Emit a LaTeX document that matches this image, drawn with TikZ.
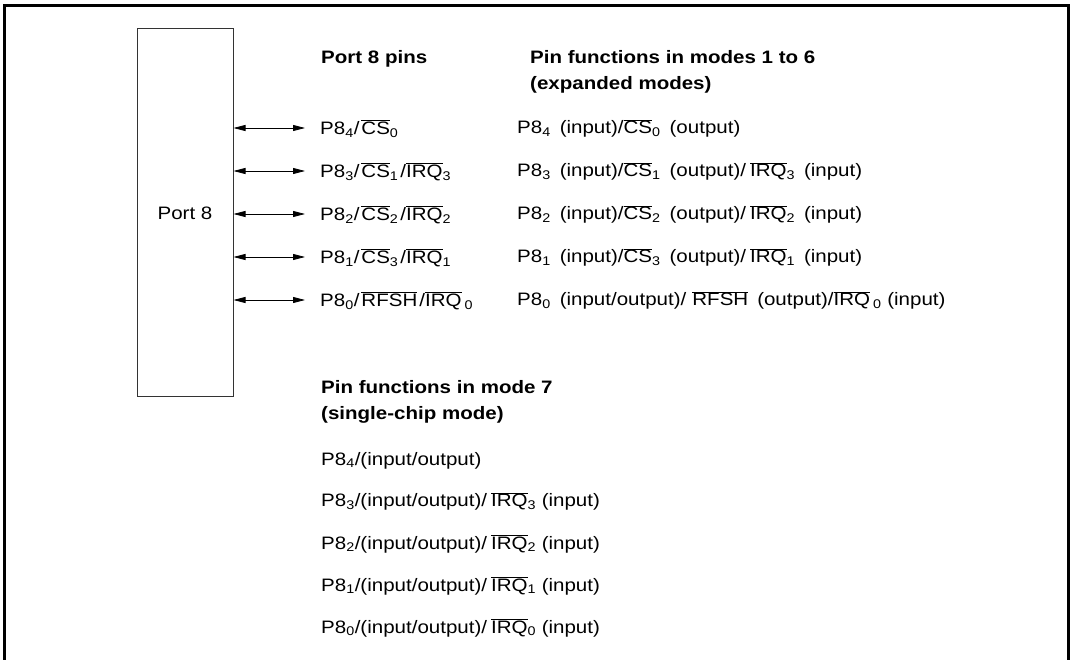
\documentclass[tikz,border=0pt]{standalone}
\usepackage{fontspec}
\setmainfont{Liberation Sans}[FakeStretch=1.14]
\usetikzlibrary{arrows.meta}
\newcommand\ovl[1]{\ensuremath{\overline{\mbox{#1}}}}
\newcommand\sub[1]{\textsubscript{#1}}
\newcommand\gap{\hspace{9pt}}
\newcommand\sgap{\hspace{2pt}}
\newcommand\mgap{\hspace{4pt}}
\begin{document}
\begin{tikzpicture}[x=1pt,y=-1pt,
  txt/.style={font=\fontsize{18}{21}\selectfont, inner sep=0pt, anchor=base west},
  head/.style={font=\fontsize{18}{21}\selectfont\bfseries, inner sep=0pt, anchor=base west},
  pinlbl/.style={font=\fontsize{18}{21}\selectfont, inner sep=0pt, anchor=west, text height=12.8pt, text depth=0pt},
  bidir/.style={{Triangle[length=12pt,width=6pt]}-{Triangle[length=12pt,width=6pt]}, line width=0.8pt},
  portbox/.style={draw=black!80, line width=1pt, minimum width=96pt, minimum height=368pt, inner sep=0pt, font=\fontsize{18}{21}\selectfont}]
\useasboundingbox (0,0) rectangle (1072,660);
\draw[line width=3pt] (4,663) -- (4,6) -- (1068,6) -- (1068,663);
\node[portbox] (port) at (185,213) {Port 8};
% headings
\node[head] (h1) at (321,64) {Port 8 pins};
\node[head] (h2) at (530,64) {Pin functions in modes 1 to 6};
\node[head] (h3) at (530,90) {(expanded modes)};
% pins
\node[pinlbl] (p4) at (320,128) {P8\sub{4}/\sgap\ovl{CS}\sub{0}};
\node[pinlbl] (p3) at (320,171) {P8\sub{3}/\sgap\ovl{CS}\sub{1}\sgap/\ovl{IRQ}\sub{3}};
\node[pinlbl] (p2) at (320,214) {P8\sub{2}/\sgap\ovl{CS}\sub{2}\sgap/\ovl{IRQ}\sub{2}};
\node[pinlbl] (p1) at (320,257) {P8\sub{1}/\sgap\ovl{CS}\sub{3}\sgap/\ovl{IRQ}\sub{1}};
\node[pinlbl] (p0) at (320,300) {P8\sub{0}/\sgap\ovl{RFSH}\sgap/\ovl{IRQ}\,\sub{0}};
\foreach \p in {p4,p3,p2,p1,p0}
  \draw[bidir] (port.east |- \p.west) -- ([xshift=-15pt]\p.west);
% functions modes 1-6
\node[txt] (f4) at (517,134) {P8\sub{4}\gap(input)/\ovl{CS}\sub{0}\gap(output)};
\node[txt] (f3) at (517,177) {P8\sub{3}\gap(input)/\ovl{CS}\sub{1}\gap(output)/\mgap\ovl{IRQ}\sub{3}\gap(input)};
\node[txt] (f2) at (517,220) {P8\sub{2}\gap(input)/\ovl{CS}\sub{2}\gap(output)/\mgap\ovl{IRQ}\sub{2}\gap(input)};
\node[txt] (f1) at (517,263) {P8\sub{1}\gap(input)/\ovl{CS}\sub{3}\gap(output)/\mgap\ovl{IRQ}\sub{1}\gap(input)};
\node[txt] (f0) at (517,306) {P8\sub{0}\gap(input/output)/\hspace{6pt}\ovl{RFSH}\gap(output)/\ovl{IRQ}\,\sub{0} (input)};
% mode 7
\node[head] (m1) at (321,394) {Pin functions in mode 7};
\node[head] (m2) at (321,420) {(single-chip mode)};
\node[txt] (s4) at (321,465) {P8\sub{4}/(input/output)};
\node[txt] (s3) at (321,507) {P8\sub{3}/(input/output)/\mgap\ovl{IRQ}\sub{3} (input)};
\node[txt] (s2) at (321,549) {P8\sub{2}/(input/output)/\mgap\ovl{IRQ}\sub{2} (input)};
\node[txt] (s1) at (321,591) {P8\sub{1}/(input/output)/\mgap\ovl{IRQ}\sub{1} (input)};
\node[txt] (s0) at (321,633) {P8\sub{0}/(input/output)/\mgap\ovl{IRQ}\sub{0} (input)};
\end{tikzpicture}
\end{document}
